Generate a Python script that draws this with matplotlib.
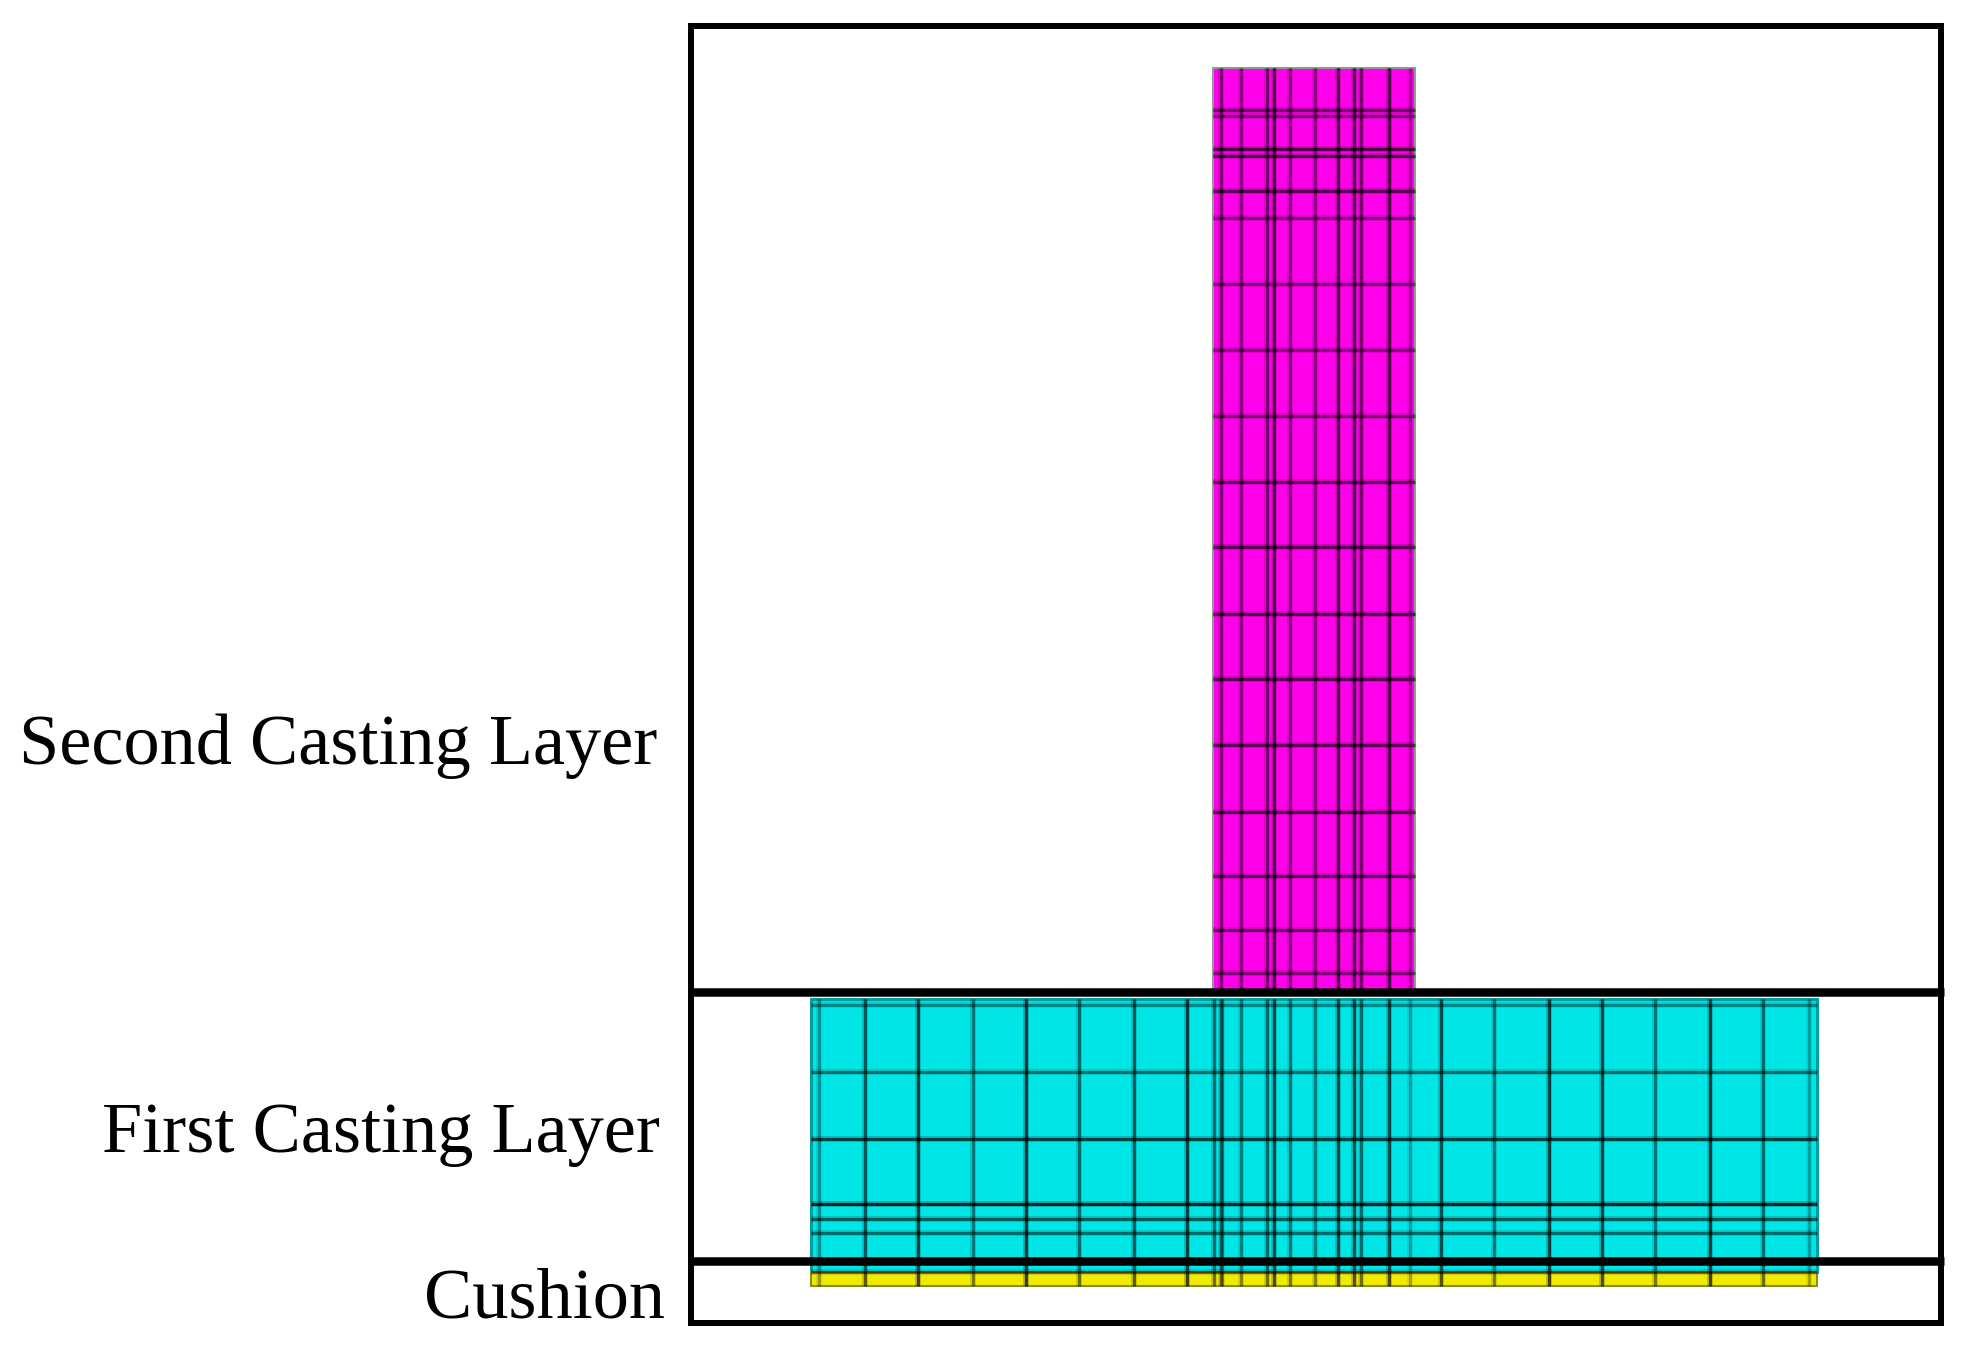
import matplotlib
matplotlib.use("Agg")
import matplotlib.pyplot as plt
from matplotlib.patches import Rectangle

# Layer labels (text, right edge, baseline)
labels = ["Second Casting Layer", "First Casting Layer", "Cushion"]
label_right = [657, 660, 665]
label_base = [764, 1152, 1317]

# Column mesh of the second casting layer and its line strengths
mag_left, mag_right, mag_top, mag_bottom = 1213, 1415, 68, 992
mag_cols = [1221, 1241, 1267, 1274, 1290, 1315, 1338, 1354, 1361, 1389, 1410]
mag_col_alpha = [.5, .45, .55, .75, .5, .45, .75, .7, .55, .75, .3]
mag_rows = [110, 116, 149, 156, 191, 218, 284, 350, 416, 482, 547, 614, 679, 745, 812, 876, 930, 973]
mag_row_alpha = [.6, .5, .75, .75, .7, .5, .5, .5, .55, .65, .7, .75, .7, .65, .7, .65, .6, .5]

# Mesh of the first casting layer
cy_left, cy_right, cy_top, cy_bottom = 811, 1817, 999, 1272
cy_outer_cols = [819, 865, 918, 973, 1026, 1079, 1134, 1187, 1214, 1222,
                 1441, 1494, 1549, 1602, 1655, 1710, 1763, 1809]
cy_outer_alpha = [.35, .65, .8, .5, .85, .55, .65, .8, .55, .4,
                  .7, .5, .8, .75, .5, .8, .55, .3]
cy_rows = [1005, 1072, 1139, 1204, 1219, 1233]
cy_row_alpha = [.4, .55, .8, .95, .65, .55]

# Cushion
ye_bottom = 1286

# Outer frame boxes
fr_left, fr_right = 691, 1941
fr_rows = [26, 992, 1261, 1323]
fr_row_width = [6, 8.5, 8.5, 6]

plt.rcParams["font.family"] = ["Liberation Serif", "DejaVu Serif"]
fig = plt.figure(figsize=(19.62, 13.47), dpi=100, facecolor="white")
ax = fig.add_axes([0, 0, 1, 1])
ax.set_xlim(0, 1962)
ax.set_ylim(1347, 0)
ax.axis("off")

px = 0.72  # one pixel in points at 100 dpi
ink = (0, 0, 0)

# Fills
ax.add_patch(Rectangle((mag_left, mag_top), mag_right - mag_left, mag_bottom - mag_top,
                       fc="#ff00ea", ec=(.55, .62, .58), lw=2 * px, zorder=1))
ax.add_patch(Rectangle((cy_left, cy_top), cy_right - cy_left, cy_bottom - cy_top,
                       fc="#00e6e6", ec=(0, .62, .62), lw=3 * px, zorder=1))
ax.add_patch(Rectangle((cy_left, cy_bottom), cy_right - cy_left, ye_bottom - cy_bottom,
                       fc="#eeea00", ec=(.55, .55, .15), lw=2 * px, zorder=1))


def mesh_v(xs, alphas, y0, y1):
    for x, a in zip(xs, alphas):
        ax.vlines(x, y0, y1, colors=[ink + (a * .3,)], lw=5.5 * px, zorder=2)
        ax.vlines(x, y0, y1, colors=[ink + (a * .8,)], lw=3 * px, zorder=2)


def mesh_h(ys, alphas, x0, x1):
    for y, a in zip(ys, alphas):
        ax.hlines(y, x0, x1, colors=[ink + (a * .3,)], lw=5.5 * px, zorder=2)
        ax.hlines(y, x0, x1, colors=[ink + (a * .8,)], lw=3 * px, zorder=2)


mesh_h(mag_rows, mag_row_alpha, mag_left, mag_right)
mesh_v(mag_cols, mag_col_alpha, mag_top, mag_bottom)
mesh_h(cy_rows, cy_row_alpha, cy_left, cy_right)
mesh_v(cy_outer_cols, cy_outer_alpha, cy_top, ye_bottom)
mesh_v(mag_cols, mag_col_alpha, cy_top, ye_bottom)
mesh_h([cy_bottom], [.55], cy_left, cy_right)

# Frames
for y, w in zip(fr_rows, fr_row_width):
    ax.hlines(y, fr_left - 3, fr_right + 3, colors="black", lw=w * px, zorder=3)
ax.vlines([fr_left, fr_right], fr_rows[0], fr_rows[-1], colors="black", lw=6 * px, zorder=3)

# Labels
for t, r, b in zip(labels, label_right, label_base):
    ax.text(r, b, t, ha="right", va="baseline", fontsize=52, color="black", zorder=4)

fig.savefig("out.png", dpi=100)
